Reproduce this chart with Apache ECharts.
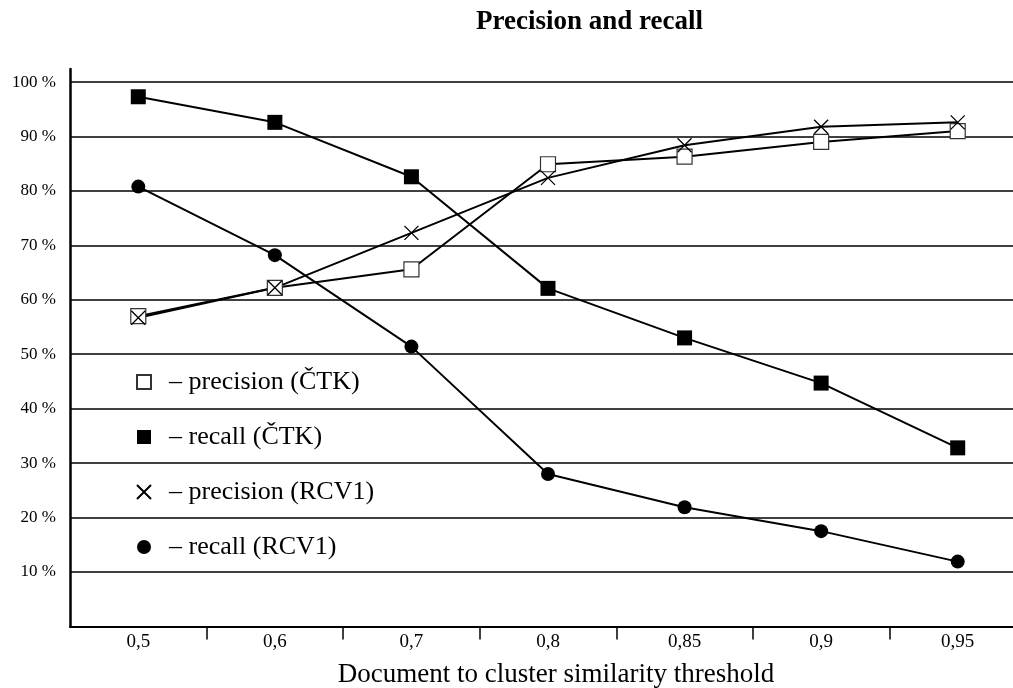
<!DOCTYPE html>
<html>
<head>
<meta charset="utf-8">
<script src="https://cdn.jsdelivr.net/npm/echarts@6/dist/echarts.min.js"></script>
<style>
  html, body { margin: 0; padding: 0; background: #fff; }
  #chart { width: 1013px; height: 688px; }
</style>
</head>
<body>
<div id="chart"></div>
<script>
// thresholds on the x axis
const thresholds = ['0,5', '0,6', '0,7', '0,8', '0,85', '0,9', '0,95']
// values in percent
const precisionCTK = [57.0, 62.2, 65.6, 84.9, 86.3, 89.0, 91.0]
const recallCTK = [97.3, 92.6, 82.6, 62.1, 53.0, 44.7, 32.8]
const precisionRCV1 = [56.7, 62.2, 72.3, 82.4, 88.4, 91.8, 92.6]
const recallRCV1 = [80.8, 68.2, 51.4, 28.0, 21.9, 17.5, 11.9]
const seriesNames = ['precision (ČTK)', 'recall (ČTK)', 'precision (RCV1)', 'recall (RCV1)']

const serif = '"Liberation Serif", "DejaVu Serif", serif'
const crossPath = 'path://M0,0L10,10M10,0L0,10'

let myChart = echarts.init(document.getElementById('chart'))
let line = (name, data, symbol, size, itemStyle) => ({
  name: name,
  type: 'line',
  data: data,
  symbol: symbol,
  symbolSize: size,
  showAllSymbol: true,
  lineStyle: { color: '#000', width: 2 },
  itemStyle: itemStyle,
  emphasis: { disabled: true },
  animation: false,
  z: 3
})

let option = {
  animation: false,
  title: {
    text: 'Precision and recall',
    left: 471,
    top: 4,
    textStyle: {
      fontFamily: serif,
      fontWeight: 'bold',
      fontSize: 27,
      color: '#000'
    }
  },
  legend: {
    orient: 'vertical',
    left: 131,
    top: 364,
    itemGap: 29,
    itemWidth: 14,
    itemHeight: 14,
    selectedMode: false,
    data: [
      { name: seriesNames[0], icon: 'rect' },
      { name: seriesNames[1], icon: 'rect' },
      { name: seriesNames[2], icon: crossPath },
      { name: seriesNames[3], icon: 'circle' }
    ],
    formatter: name => '  – ' + name,
    textStyle: {
      fontFamily: serif,
      fontSize: 26,
      color: '#000'
    }
  },
  grid: {
    left: 70,
    right: -13,
    top: 69,
    bottom: 61.6,
    containLabel: false,
    outerBoundsMode: 'none'
  },
  xAxis: {
    type: 'category',
    data: thresholds,
    boundaryGap: true,
    name: 'Document to cluster similarity threshold',
    nameLocation: 'middle',
    nameGap: 35,
    nameTextStyle: {
      fontFamily: serif,
      fontSize: 27,
      color: '#000',
      padding: [0, 0, 0, 16]
    },
    axisLine: { lineStyle: { color: '#000', width: 2 } },
    axisTick: {
      show: true,
      length: 13,
      interval: index => index !== 0,
      lineStyle: { color: '#000', width: 1.5 }
    },
    axisLabel: {
      fontFamily: serif,
      fontSize: 19,
      color: '#000',
      margin: 6
    }
  },
  yAxis: {
    type: 'value',
    min: 0,
    max: 102.4,
    interval: 10,
    axisLine: { show: true, lineStyle: { color: '#000', width: 2.5 } },
    axisTick: { show: false },
    axisLabel: {
      fontFamily: serif,
      fontSize: 17,
      color: '#000',
      margin: 14,
      showMaxLabel: false,
      formatter: v => (v > 0 && v <= 100 && v % 10 === 0 ? v + ' %' : '')
    },
    splitLine: {
      show: true,
      showMinLine: false,
      showMaxLine: false,
      lineStyle: { color: '#000', width: 1.5 }
    }
  },
  series: [
    line(seriesNames[0], precisionCTK, 'rect', 15, {
      color: '#fff', borderColor: '#333', borderWidth: 1.2
    }),
    line(seriesNames[1], recallCTK, 'rect', 15, {
      color: '#000', borderColor: '#000', borderWidth: 0
    }),
    line(seriesNames[2], precisionRCV1, crossPath, 14, {
      color: 'rgba(0,0,0,0)', borderColor: '#000', borderWidth: 1.3
    }),
    line(seriesNames[3], recallRCV1, 'circle', 14, {
      color: '#000', borderColor: '#000', borderWidth: 0
    })
  ]
}
myChart.setOption(option, true)
</script>
</body>
</html>
